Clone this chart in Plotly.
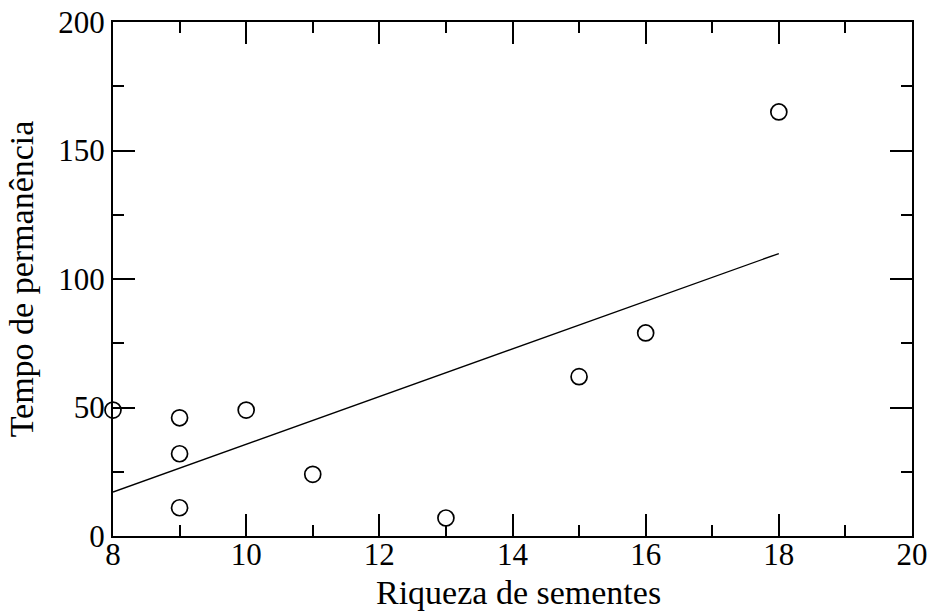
import plotly.graph_objects as go

# Observations: seed richness vs. residence time
riqueza = [8, 9, 9, 9, 10, 11, 13, 15, 16, 18]
tempo = [49, 46, 32, 11, 49, 24, 7, 62, 79, 165]

# Least-squares line endpoints
ajuste_x = [8, 18]
ajuste_y = [17.1, 109.9]

x_ticks = [8, 10, 12, 14, 16, 18, 20]
y_ticks = [0, 50, 100, 150, 200]

FONT = "Liberation Serif"

fig = go.Figure()
fig.add_trace(go.Scatter(
    x=ajuste_x, y=ajuste_y, mode="lines",
    line=dict(color="black", width=1.4),
    showlegend=False, cliponaxis=False,
))
fig.add_trace(go.Scatter(
    x=riqueza, y=tempo, mode="markers",
    marker=dict(symbol="circle-open", size=16, color="black",
                line=dict(width=1.7, color="black")),
    showlegend=False, cliponaxis=False,
))

axis_common = dict(
    showgrid=False, zeroline=False,
    showline=True, linecolor="black", linewidth=2,
    mirror="allticks",
    ticks="inside", ticklen=22, tickwidth=1.5, tickcolor="black",
    tickfont=dict(family=FONT, size=31, color="black"),
)

fig.update_xaxes(
    range=[8, 20], tickvals=x_ticks, ticktext=[str(v) for v in x_ticks],
    minor=dict(ticks="inside", ticklen=11, tickwidth=1.5, tickcolor="black", dtick=1, tick0=8),
    ticklabelstandoff=-10,
    **axis_common,
)
fig.update_yaxes(
    range=[0, 200], tickvals=y_ticks, ticktext=[str(v) for v in y_ticks],
    minor=dict(ticks="inside", ticklen=11, tickwidth=1.5, tickcolor="black", dtick=25, tick0=0),
    title=dict(text="Tempo de permanência", font=dict(family=FONT, size=34, color="black"), standoff=14),
    **axis_common,
)

# x-axis title placed just under the tick labels
fig.add_annotation(
    text="Riqueza de sementes", xref="paper", yref="paper",
    x=0.507, y=-0.110, xanchor="center", yanchor="middle",
    showarrow=False, font=dict(family=FONT, size=34, color="black"),
)

fig.update_layout(
    width=933, height=612,
    margin=dict(l=113, r=21, t=22, b=76, autoexpand=False),
    paper_bgcolor="white", plot_bgcolor="white",
)

fig.write_html("out.html")
